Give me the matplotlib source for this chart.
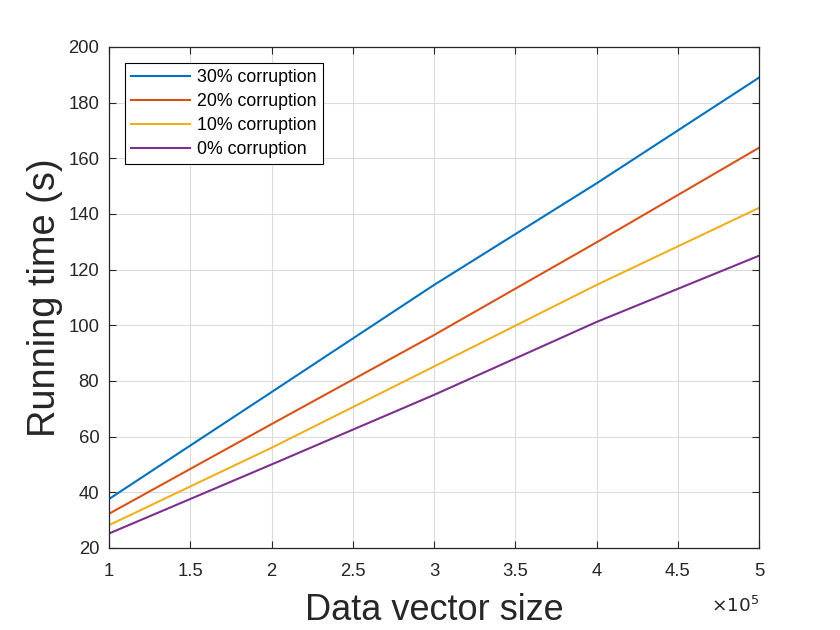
import numpy as np
import matplotlib
matplotlib.use("Agg")
import matplotlib.pyplot as plt
from matplotlib.ticker import FuncFormatter, MultipleLocator

plt.rcParams['font.family'] = ['Liberation Sans', 'DejaVu Sans']

# data (x in elements, y in seconds)
sizes = [1e5, 2e5, 3e5, 4e5, 5e5]
time_30 = [37.6, 76.0, 114.5, 151.0, 189.0]
time_20 = [32.3, 64.5, 96.5, 129.8, 163.8]
time_10 = [28.2, 56.0, 85.2, 114.5, 142.2]
time_00 = [25.2, 50.0, 75.0, 101.2, 125.0]
labels = ['30% corruption', '20% corruption', '10% corruption', '0% corruption']
colours = ['#0072BD', '#D95319', '#EDB120', '#7E2F8E']

txt = '#262626'

fig = plt.figure(figsize=(8.4, 6.3), dpi=100)
ax = fig.add_axes([0.1298, 0.1302, 0.7738, 0.7952])

for ys, lab, col in zip([time_30, time_20, time_10, time_00], labels, colours):
    ax.plot(sizes, ys, color=col, lw=1.5, label=lab)

ax.set_xlim(1e5, 5e5)
ax.set_ylim(20, 200)
ax.xaxis.set_major_locator(MultipleLocator(0.5e5))
ax.yaxis.set_major_locator(MultipleLocator(20))
ax.xaxis.set_major_formatter(FuncFormatter(lambda v, p: f"{v / 1e5:g}"))

ax.grid(True, color='#dcdcdc', lw=0.8)
ax.set_axisbelow(True)
for sp in ax.spines.values():
    sp.set_color(txt)
    sp.set_linewidth(0.9)
ax.tick_params(direction='in', length=5, width=0.8, colors=txt,
               top=True, right=True, labelsize=13.3)
ax.tick_params(axis='x', pad=11)
ax.tick_params(axis='y', pad=7)

ax.set_xlabel('Data vector size', fontsize=26, color=txt, labelpad=9.5)
ax.set_ylabel('Running time (s)', fontsize=27.4, color=txt, labelpad=4)
ax.text(1.001, -0.127, r'$\times10^{5}$', transform=ax.transAxes,
        ha='right', va='baseline', fontsize=13.3, color=txt)

leg = ax.legend(loc='upper left', borderaxespad=0.9, fontsize=12.8,
                handlelength=3.3, labelspacing=0.39, borderpad=0.35,
                handletextpad=0.4, fancybox=False, framealpha=1,
                edgecolor='black')
leg.get_frame().set_linewidth(0.8)

fig.savefig('out.png', dpi=100)
